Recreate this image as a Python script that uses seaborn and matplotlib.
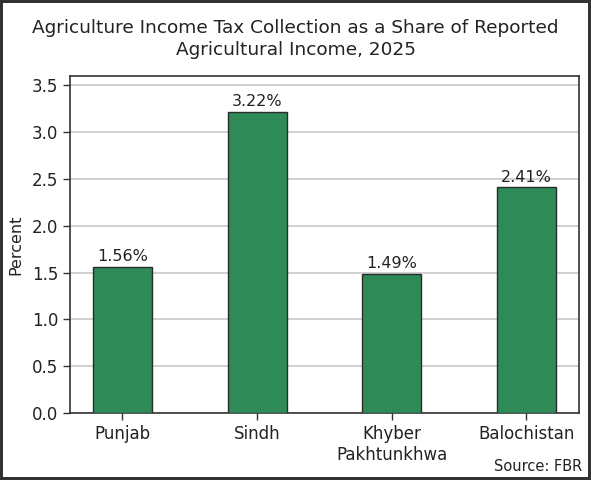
import matplotlib
matplotlib.use("Agg")
import matplotlib.pyplot as plt
import seaborn as sns
import pandas as pd

provinces = ["Punjab", "Sindh", "Khyber\nPakhtunkhwa", "Balochistan"]
shares = [1.56, 3.22, 1.49, 2.41]
labels = ["1.56%", "3.22%", "1.49%", "2.41%"]
yticks = [0.0, 0.5, 1.0, 1.5, 2.0, 2.5, 3.0, 3.5]

sns.set_style("white")
plt.rcParams['font.family'] = ['DejaVu Sans']

df = pd.DataFrame({"Province": provinces, "Percent": shares})

fig = plt.figure(figsize=(5.91, 4.8), dpi=100)
ax = fig.add_axes([0.1184, 0.1396, 0.9797 - 0.1184, 0.8417 - 0.1396])

sns.barplot(data=df, x="Province", y="Percent", color="#2e8b57", saturation=1,
            width=0.44, edgecolor="#2b2b2b", linewidth=1.0, ax=ax, zorder=3)

for i, (v, t) in enumerate(zip(shares, labels)):
    ax.text(i, v + 0.03, t, ha="center", va="bottom", fontsize=11.5, color="#222222")

ax.set_ylim(0, 3.6)
ax.set_xlim(-0.39, 3.39)
ax.set_yticks(yticks)
ax.set_yticklabels([f"{t:.1f}" for t in yticks])
ax.yaxis.grid(True, color="#c8c8c8", linewidth=1.2, zorder=0)
ax.set_axisbelow(True)
ax.set_xlabel("")
ax.set_ylabel("Percent", fontsize=11.5, color="#222222", labelpad=6)
ax.tick_params(axis="both", which="both", direction="out", length=5, width=1,
               color="#333333", labelsize=12, labelcolor="#222222",
               left=True, bottom=True)
for s in ax.spines.values():
    s.set_visible(True)
    s.set_color("#333333")
    s.set_linewidth(1.2)

fig.text(0.5, 0.919, "Agriculture Income Tax Collection as a Share of Reported\nAgricultural Income, 2025",
         ha="center", va="center", fontsize=13.3, color="#222222", linespacing=1.3)
fig.text(0.985, 0.029, "Source: FBR", ha="right", va="center", fontsize=10.5, color="#222222")

fig.patch.set_edgecolor("#333333")
fig.patch.set_linewidth(4)

fig.savefig("out.png", dpi=100, edgecolor=fig.get_edgecolor())
